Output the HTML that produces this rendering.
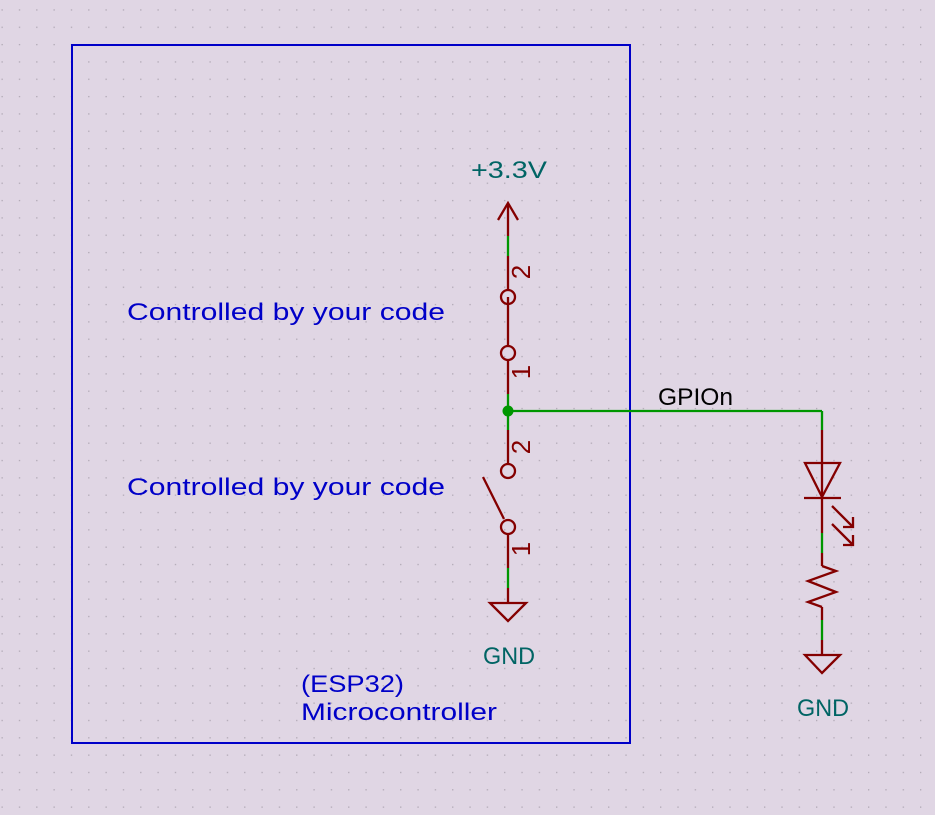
<!DOCTYPE html>
<html><head><meta charset="utf-8"><style>
html,body{margin:0;padding:0;background:#e0d6e4;}
svg{display:block}
text{font-family:"Liberation Sans",sans-serif;}
</style></head><body>
<svg width="935" height="815" viewBox="0 0 935 815" xmlns="http://www.w3.org/2000/svg">
<defs>
<pattern id="g" x="1.5" y="9.3" width="17.33" height="17.33" patternUnits="userSpaceOnUse">
<rect x="0" y="0" width="1.3" height="1.3" fill="#b0a8b4"/>
</pattern>
</defs>
<rect width="935" height="815" fill="#e0d6e4"/>
<rect width="935" height="815" fill="url(#g)"/>
<rect x="72" y="45" width="558" height="698" fill="none" stroke="#0000c8" stroke-width="2"/>

<g stroke="#009600" stroke-width="2.3" fill="none">
<line x1="508" y1="236" x2="508" y2="256"/>
<line x1="508" y1="394" x2="508" y2="430"/>
<line x1="508" y1="411" x2="822" y2="411"/>
<line x1="822" y1="411" x2="822" y2="430"/>
<line x1="508" y1="568" x2="508" y2="588"/>
<line x1="822" y1="533" x2="822" y2="553"/>
<line x1="822" y1="620" x2="822" y2="640"/>
</g>
<circle cx="508" cy="411" r="5.5" fill="#009600"/>

<g stroke="#840000" stroke-width="2.3" fill="none">
<line x1="508" y1="204" x2="508" y2="236"/>
<polyline points="498,220 508,203 518,220"/>
<line x1="508" y1="256" x2="508" y2="290"/>
<circle cx="508" cy="297" r="7"/>
<line x1="508" y1="297" x2="508" y2="346"/>
<circle cx="508" cy="353" r="7"/>
<line x1="508" y1="360" x2="508" y2="394"/>
<line x1="508" y1="430" x2="508" y2="464"/>
<circle cx="508" cy="471" r="7"/>
<circle cx="508" cy="527" r="7"/>
<line x1="483" y1="477" x2="504" y2="519"/>
<line x1="508" y1="534" x2="508" y2="568"/>
<line x1="508" y1="588" x2="508" y2="603"/>
<polygon points="490,603 526,603 508,621"/>

<line x1="822" y1="430" x2="822" y2="533"/>
<polygon points="805,463 840,463 822,497"/>
<line x1="804" y1="498" x2="841" y2="498"/>
<line x1="832" y1="506" x2="853" y2="527"/>
<polyline points="843,527 853,527 853,517"/>
<line x1="832" y1="524" x2="853" y2="545"/>
<polyline points="843,545 853,545 853,535"/>
<line x1="822" y1="553" x2="822" y2="566"/>
<polyline points="822,566 836,571 808,581 836,592 808,602 822,607"/>
<line x1="822" y1="607" x2="822" y2="620"/>
<line x1="822" y1="640" x2="822" y2="655"/>
<polygon points="805,655 840,655 822,673"/>
</g>

<g fill="#840000" font-size="26">
<text transform="translate(530,272) rotate(-90)" text-anchor="middle">2</text>
<text transform="translate(530,372) rotate(-90)" text-anchor="middle">1</text>
<text transform="translate(530,447) rotate(-90)" text-anchor="middle">2</text>
<text transform="translate(530,549) rotate(-90)" text-anchor="middle">1</text>
</g>

<g fill="#0000c8" font-size="24">
<text x="127" y="320" textLength="318" lengthAdjust="spacingAndGlyphs">Controlled by your code</text>
<text x="127" y="495" textLength="318" lengthAdjust="spacingAndGlyphs">Controlled by your code</text>
<text x="301" y="692" textLength="103" lengthAdjust="spacingAndGlyphs">(ESP32)</text>
<text x="301" y="720" textLength="196" lengthAdjust="spacingAndGlyphs">Microcontroller</text>
</g>
<g fill="#006464" font-size="24">
<text x="471" y="178" textLength="76" lengthAdjust="spacingAndGlyphs">+3.3V</text>
<text x="483" y="664" textLength="52" lengthAdjust="spacingAndGlyphs">GND</text>
<text x="797" y="716" textLength="52" lengthAdjust="spacingAndGlyphs">GND</text>
</g>
<text x="658" y="405" font-size="24" fill="#000" textLength="75" lengthAdjust="spacingAndGlyphs">GPIOn</text>
</svg>
</body></html>
